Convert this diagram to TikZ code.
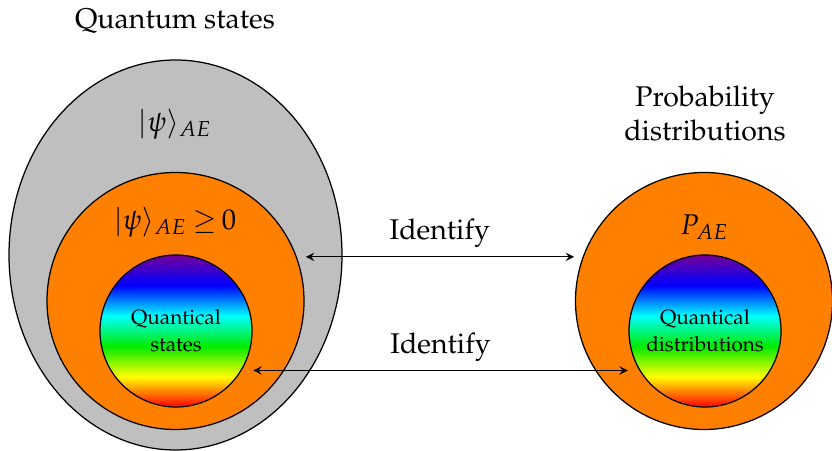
\documentclass[tikz,border=0pt]{standalone}
\usepackage[T1]{fontenc}
\usepackage{mathpazo}
\usepackage{amsmath}
\usepackage{amssymb}
\usepackage{xcolor}
\usetikzlibrary{arrows,shapes.geometric}

\definecolor{rbpurple}{rgb}{0.45,0,0.6}
\definecolor{rbgreen}{rgb}{0,0.92,0}
\pgfdeclareverticalshading{rainbow}{100bp}{color(0bp)=(red); color(25bp)=(red); color(35bp)=(yellow); color(45bp)=(rbgreen); color(55bp)=(cyan); color(65bp)=(blue); color(75bp)=(rbpurple); color(100bp)=(rbpurple)}

\begin{document}
\begin{tikzpicture}[x=0.4pt,y=-0.4pt,line width=0.5pt,>=stealth,
  txt/.style={font=\fontsize{11.4}{13.6}\selectfont,align=center},
  shell/.style={ellipse,draw=black,fill=lightgray,minimum width=133.2pt,minimum height=156pt,inner sep=0pt},
  disc/.style={circle,draw=black,fill=orange,minimum size=102.8pt,inner sep=0pt},
  core/.style={circle,draw=black,shading=rainbow,minimum size=60.8pt,inner sep=0pt,
    align=center,font=\fontsize{8.3}{10.8}\selectfont}]
  \useasboundingbox (0,0) rectangle (832,451);

  \node[shell] (qs) at (175.5,255) {};
  \node[disc] (lo) at (175.5,301) {};
  \node[core] (li) at (176,331) {Quantical\\states};

  \node[disc] (ro) at (704,301) {};
  \node[core] (ri) at (705,331) {Quantical\\distributions};

  \node[txt] (qt) at (175,21) {Quantum states};
  \node[txt] (pt) at (705,114) {Probability\\distributions};
  \node[txt] (psi) at (175,124) {$|\psi\rangle_{AE}$};
  \node[txt] (psip) at (175,222) {$|\psi\rangle_{AE}\mskip-1mu\geq\mskip-2mu 0$};
  \node[txt] (pae) at (704.5,227) {$P_{AE}$};

      \draw[<->,shorten <=3.6pt,shorten >=3.4pt] (lo.20) -- (ro.160) node[txt,midway,above] {Identify};
      \draw[<->,shorten <=4.6pt,shorten >=4.6pt] (li.-31) -- (ri.211) node[txt,midway,above] {Identify};
\end{tikzpicture}
\end{document}
